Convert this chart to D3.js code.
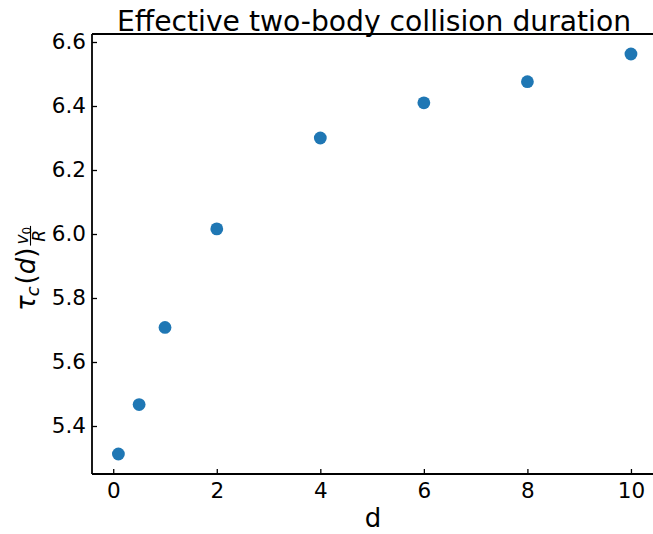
<!DOCTYPE html>
<html>
<head>
<meta charset="utf-8">
<script src="https://cdn.jsdelivr.net/npm/d3@7"></script>
<style>
  html, body { margin: 0; padding: 0; background: #fff; }
  svg { display: block; }
  text { font-family: "DejaVu Sans", sans-serif; fill: #000; }
</style>
</head>
<body>
<div id="chart"></div>
<script>
// ---- data ----
const dValues = [0.1, 0.5, 1, 2, 4, 6, 8, 10];
const tauValues = [5.3125, 5.467, 5.708, 6.016, 6.300, 6.410, 6.476, 6.5625];
const xTicks = [0, 2, 4, 6, 8, 10];
const yTicks = [5.4, 5.6, 5.8, 6.0, 6.2, 6.4, 6.6];
const titleText = "Effective two-body collision duration";
const xLabelText = "d";

(function () {
const W = 653, H = 534;
const pL = 92, pR = 657, pT = 34, pB = 474;

const svg = d3.select("#chart").append("svg")
  .attr("width", W).attr("height", H);

const x = d3.scaleLinear().domain([-0.41, 10.503]).range([pL, pR]);
const y = d3.scaleLinear().domain([5.25, 6.625]).range([pB, pT]);

// points
svg.append("g").selectAll("circle")
  .data(dValues.map((d, i) => ({d, t: tauValues[i]})))
  .join("circle")
  .attr("cx", p => x(p.d))
  .attr("cy", p => y(p.t))
  .attr("r", 6.4)
  .attr("fill", "#1f77b4");

// axes with inward ticks
const xAxis = d3.axisBottom(x).tickValues(xTicks).tickFormat(d3.format("d"))
  .tickSizeInner(-5).tickSizeOuter(0).tickPadding(9);
const yAxis = d3.axisLeft(y).tickValues(yTicks).tickFormat(d3.format(".1f"))
  .tickSizeInner(-5).tickSizeOuter(0).tickPadding(6);

const gx = svg.append("g").attr("transform", `translate(0,${pB})`).call(xAxis);
const gy = svg.append("g").attr("transform", `translate(${pL},0)`).call(yAxis);
[gx, gy].forEach(g => {
  g.select(".domain").remove();
  g.selectAll(".tick line").attr("stroke", "#000").attr("stroke-width", 1.3);
  g.selectAll(".tick text").attr("font-family", "DejaVu Sans").attr("font-size", 21.5).attr("fill", "#000");
});

// spines
const sp = svg.append("g").attr("stroke", "#000").attr("stroke-width", 1.8).attr("fill", "none");
sp.append("line").attr("x1", pL).attr("x2", pL).attr("y1", pT).attr("y2", pB);
sp.append("line").attr("x1", pL).attr("x2", pR).attr("y1", pB).attr("y2", pB);
sp.append("line").attr("x1", pL).attr("x2", pR).attr("y1", pT).attr("y2", pT);
sp.append("line").attr("x1", pR).attr("x2", pR).attr("y1", pT).attr("y2", pB);

// title
svg.append("text").attr("x", (pL + 652) / 2 + 2).attr("y", 30.5)
  .attr("text-anchor", "middle").attr("font-size", 28.2).text(titleText);

// x label
svg.append("text").attr("x", 373).attr("y", 527)
  .attr("text-anchor", "middle").attr("font-size", 26).text(xLabelText);

// y label: tau_c(d) v0/R, rotated
const yl = svg.append("g").attr("transform", "translate(35,311) rotate(-90)");
let cx = 0;
function piece(txt, size, italic, dy) {
  const t = yl.append("text").attr("x", cx).attr("y", dy || 0)
    .attr("font-size", size).attr("font-style", italic ? "italic" : "normal").text(txt);
  const w = t.node().getComputedTextLength();
  cx += w;
  return t;
}
piece("\u03C4", 26, true);
cx -= 1;
piece("c", 18, true, 4);
cx += 2;
piece("(", 26, false);
piece("d", 26, true);
piece(")", 26, false);
cx += 2;
// fraction
const fx = cx;
const num = yl.append("text").attr("x", fx).attr("y", -7).attr("font-size", 17).attr("font-style", "italic").text("v");
const vw = num.node().getComputedTextLength();
const sub = yl.append("text").attr("x", fx + vw).attr("y", -4.5).attr("font-size", 12).text("0");
const numW = vw + sub.node().getComputedTextLength();
const den = yl.append("text").attr("font-size", 17).attr("font-style", "italic").attr("y", 10).text("R");
const dw = den.node().getComputedTextLength();
const fw = Math.max(numW, dw) + 2;
num.attr("x", fx + (fw - numW) / 2);
sub.attr("x", fx + (fw - numW) / 2 + vw);
den.attr("x", fx + (fw - dw) / 2);
yl.append("line").attr("x1", fx).attr("x2", fx + fw).attr("y1", -4.5).attr("y2", -4.5)
  .attr("stroke", "#000").attr("stroke-width", 1.1);
})();
</script>
</body>
</html>
